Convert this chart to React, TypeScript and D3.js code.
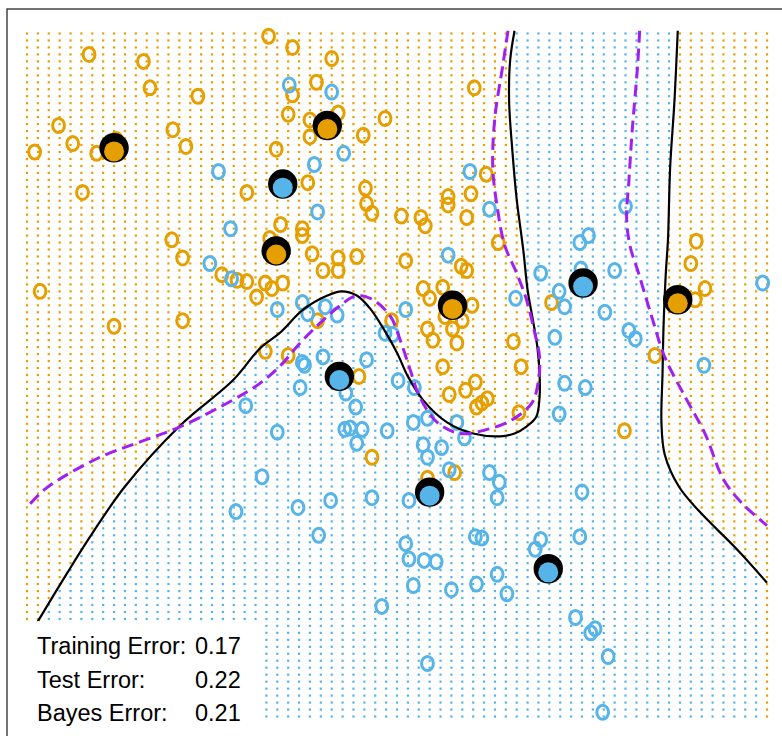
import React from "react";
import * as d3 from "d3";

const W = 782;
const H = 736;

// evaluation grid (mixture example grid)
const gridX = d3.range(69).map((i) => +(-2.6 + i * 0.1).toFixed(2));
const gridY = d3.range(99).map((j) => +(-2.0 + j * 0.05).toFixed(2));

const orangePoints: [number, number][] = [
  [-2.03, 2.75], [-1.53, 2.7], [-1.47, 2.51], [-1.03, 2.45], [-2.31, 2.24], [-2.18, 2.11],
  [-2.53, 2.05], [-1.96, 2.04], [-1.78, 2.14], [-1.26, 2.21], [-1.14, 2.09], [-2.09, 1.76],
  [-0.58, 1.76], [-1.27, 1.42], [-0.38, 2.88], [-0.16, 2.8], [0.2, 2.72], [0.06, 2.55],
  [-0.16, 2.46], [-0.2, 2.32], [0.0, 2.28], [0.26, 2.33], [0.69, 2.29], [0.0, 2.16],
  [0.49, 2.17], [-0.31, 2.07], [-0.02, 1.83], [0.51, 1.79], [0.52, 1.68], [0.57, 1.61],
  [0.84, 1.59], [1.02, 1.58], [1.06, 1.52], [1.27, 1.73], [1.27, 1.67], [1.48, 1.75],
  [1.44, 1.58], [1.62, 1.89], [1.51, 2.51], [-0.27, 1.53], [-0.07, 1.5], [-0.07, 1.45],
  [1.73, 1.4], [-0.37, 1.43], [-2.48, 1.05], [-1.8, 0.8], [-1.17, 0.84], [-1.17, 1.29],
  [-0.81, 1.17], [-0.67, 1.13], [-0.58, 1.12], [-0.41, 1.11], [-0.35, 1.07], [-0.49, 1.01],
  [-0.41, 0.62], [0.02, 1.32], [0.26, 1.29], [0.43, 1.3], [0.12, 1.2], [0.26, 1.2],
  [0.88, 1.27], [1.39, 1.23], [1.44, 1.2], [-0.25, 1.11], [1.04, 1.07], [1.1, 1.0],
  [1.22, 1.08], [1.49, 0.95], [1.24, 0.87], [1.4, 0.84], [1.08, 0.78], [1.13, 0.7],
  [1.31, 0.78], [1.35, 0.68], [0.75, 0.84], [0.07, 0.84], [-0.2, 0.59], [0.45, 0.44],
  [1.22, 0.51], [1.87, 0.69], [1.94, 0.51], [1.52, 0.4], [1.43, 0.34], [1.28, 0.31],
  [1.53, 0.22], [1.58, 0.25], [1.63, 0.28], [1.92, 0.18], [0.57, -0.14], [1.33, -0.25],
  [1.08, -0.29], [3.5, 1.25], [3.63, 1.07], [3.54, 0.99], [2.22, 0.97], [3.17, 0.59],
  [2.89, 0.05], [3.55, 1.41],
];

const bluePoints: [number, number][] = [
  [-0.84, 1.91], [-0.73, 1.5], [-0.19, 2.53], [0.2, 2.48], [0.31, 2.04], [0.04, 1.96],
  [0.07, 1.62], [1.47, 1.91], [1.65, 1.64], [1.27, 1.31], [2.9, 1.66], [2.56, 1.45],
  [2.48, 1.4], [-0.92, 1.25], [-0.72, 1.14], [-0.59, 0.23], [-0.44, -0.28], [-0.3, 0.92],
  [-0.07, 0.97], [-0.02, 0.89], [0.14, 0.94], [0.25, 0.88], [0.88, 0.92], [0.69, 0.75],
  [0.76, 0.74], [1.89, 1.0], [-0.07, 0.54], [-0.05, 0.52], [0.12, 0.58], [0.52, 0.56],
  [-0.09, 0.36], [0.33, 0.32], [0.42, 0.22], [0.81, 0.41], [0.96, 0.36], [-0.3, 0.04],
  [0.32, 0.06], [0.37, 0.07], [0.48, 0.06], [0.43, -0.04], [0.71, 0.05], [0.95, 0.11],
  [1.08, 0.14], [1.35, 0.11], [1.42, 0.0], [1.04, -0.05], [1.08, -0.14], [1.21, -0.07],
  [1.28, -0.23], [1.65, -0.25], [1.74, -0.32], [2.12, 1.18], [2.8, 1.2], [2.49, 1.21],
  [2.29, 1.05], [2.34, 0.94], [2.71, 0.9], [2.93, 0.77], [2.99, 0.71], [2.25, 0.72],
  [3.62, 0.52], [4.16, 1.11], [2.34, 0.39], [2.53, 0.36], [2.29, 0.17], [-0.68, -0.53],
  [-0.11, -0.5], [0.19, -0.45], [0.57, -0.43], [0.91, -0.45], [1.72, -0.43], [0.08, -0.7],
  [0.88, -0.76], [0.91, -0.87], [1.05, -0.88], [1.16, -0.89], [1.52, -0.71], [1.58, -0.72],
  [0.95, -1.06], [1.3, -1.09], [1.53, -1.05], [1.72, -0.98], [1.81, -1.12], [0.66, -1.21],
  [1.08, -1.62], [2.5, -0.39], [2.12, -0.73], [2.07, -0.8], [2.48, -0.71], [2.44, -1.29],
  [2.58, -1.4], [2.62, -1.37], [2.74, -1.57], [2.69, -1.97],
];

const orangeProtos: [number, number][] = [
  [-1.8, 2.08], [0.16, 2.24], [-0.31, 1.34], [1.31, 0.95], [3.38, 0.99],
];
const blueProtos: [number, number][] = [
  [-0.25, 1.82], [2.51, 1.11], [0.27, 0.44], [1.1, -0.39], [2.19, -0.94],
];

const boundaryLeft: [number, number][] = [
  [1.88, 2.92], [1.84, 2.71], [1.83, 2.42], [1.86, 2.06], [1.9, 1.71], [1.96, 1.35],
  [2.0, 1.06], [2.05, 0.84], [2.09, 0.65], [2.11, 0.46], [2.11, 0.29], [2.08, 0.15],
  [1.99, 0.08], [1.88, 0.03], [1.75, 0.01], [1.5, 0.03], [1.26, 0.11], [1.04, 0.27],
  [0.9, 0.44], [0.8, 0.61], [0.67, 0.79], [0.55, 0.93], [0.43, 1.02], [0.29, 1.05],
  [0.16, 1.02], [-0.06, 0.92], [-0.28, 0.75], [-0.46, 0.64], [-0.71, 0.41], [-1.19, 0.09],
  [-1.7, -0.35], [-2.02, -0.71], [-2.23, -0.97], [-2.51, -1.33], [-2.6, -1.45],
];
const boundaryRight: [number, number][] = [
  [3.38, 2.92], [3.35, 2.42], [3.31, 1.94], [3.29, 1.42], [3.27, 1.18], [3.25, 0.82],
  [3.24, 0.46], [3.23, 0.11], [3.26, -0.12], [3.39, -0.35], [3.58, -0.53], [3.91, -0.79],
  [4.2, -1.04],
];
const bayesLeft: [number, number][] = [
  [1.82, 2.92], [1.77, 2.66], [1.7, 2.3], [1.68, 1.94], [1.72, 1.66], [1.79, 1.38],
  [1.9, 1.18], [1.99, 0.99], [2.06, 0.77], [2.11, 0.58], [2.1, 0.41], [2.04, 0.25],
  [1.86, 0.13], [1.63, 0.06], [1.38, 0.03], [1.17, 0.11], [1.01, 0.29], [0.92, 0.49],
  [0.83, 0.7], [0.74, 0.87], [0.58, 0.99], [0.43, 1.02], [0.28, 0.95], [0.09, 0.82],
  [-0.09, 0.68], [-0.28, 0.51], [-0.46, 0.39], [-0.71, 0.27], [-1.19, 0.08], [-1.56, -0.03],
  [-1.93, -0.14], [-2.42, -0.36], [-2.6, -0.5],
];
const bayesRight: [number, number][] = [
  [3.03, 2.92], [3.01, 2.66], [2.96, 2.19], [2.93, 1.83], [2.91, 1.58], [2.94, 1.38],
  [3.02, 1.18], [3.14, 0.87], [3.26, 0.58], [3.45, 0.29], [3.63, 0.03], [3.8, -0.3],
  [3.97, -0.47], [4.2, -0.63],
];

const errorLabels = ["Training Error:", "Test Error:", "Bayes Error:"];
const errorValues = ["0.17", "0.22", "0.21"];

const ORANGE = "#E69F00";
const BLUE = "#56B4E9";
const PURPLE = "#A020F0";

export default function App() {
  const x = d3.scaleLinear().domain([-2.6, 4.2]).range([27, 767]);
  const y = d3.scaleLinear().domain([-2.0, 2.9]).range([716.5, 33.5]);

  const line = d3
    .line<[number, number]>()
    .x((d) => x(d[0]))
    .y((d) => y(d[1]))
    .curve(d3.curveCatmullRom.alpha(0.5));

  // blue region polygon (between the two boundary curves)
  const bluePoly: [number, number][] = [
    ...boundaryLeft,
    [-2.6, -2.0],
    [4.2, -2.0],
    ...boundaryRight.slice().reverse(),
  ];

  const dots: React.ReactNode[] = [];
  gridX.forEach((gx, i) => {
    gridY.forEach((gy, j) => {
      const isBlue = d3.polygonContains(bluePoly, [gx, gy]);
      dots.push(
        <rect
          key={`g${i}-${j}`}
          x={x(gx) - 1.1}
          y={y(gy) - 1.1}
          width={2.2}
          height={2.2}
          fill={isBlue ? BLUE : ORANGE}
        />
      );
    });
  });

  const font = "'Liberation Sans', Arial, Helvetica, sans-serif";

  return (
    <svg
      width={W}
      height={H}
      style={{ position: "absolute", left: 0, top: 0, background: "#fff" }}
    >
      <rect x={0} y={0} width={W} height={H} fill="#fff" />
      <g>{dots}</g>
      <g>
        {orangePoints.map((d, i) => (
          <ellipse
            key={`o${i}`}
            cx={x(d[0])}
            cy={y(d[1])}
            rx={5.9}
            ry={7.0}
            fill="none"
            stroke={ORANGE}
            strokeWidth={3}
          />
        ))}
        {bluePoints.map((d, i) => (
          <ellipse
            key={`b${i}`}
            cx={x(d[0])}
            cy={y(d[1])}
            rx={5.9}
            ry={7.0}
            fill="none"
            stroke={BLUE}
            strokeWidth={3}
          />
        ))}
      </g>
      <g fill="none">
        <path d={line(boundaryLeft) || ""} stroke="#000" strokeWidth={2.2} />
        <path d={line(boundaryRight) || ""} stroke="#000" strokeWidth={2.2} />
        <path
          d={line(bayesLeft) || ""}
          stroke={PURPLE}
          strokeWidth={3}
          strokeDasharray="12 6"
        />
        <path
          d={line(bayesRight) || ""}
          stroke={PURPLE}
          strokeWidth={3}
          strokeDasharray="12 6"
        />
      </g>
      <g>
        {orangeProtos.map((d, i) => (
          <g key={`po${i}`}>
            <circle cx={x(d[0])} cy={y(d[1])} r={14.7} fill="#000" />
            <circle cx={x(d[0])} cy={y(d[1]) + 3.6} r={10} fill={ORANGE} />
          </g>
        ))}
        {blueProtos.map((d, i) => (
          <g key={`pb${i}`}>
            <circle cx={x(d[0])} cy={y(d[1])} r={14.7} fill="#000" />
            <circle cx={x(d[0])} cy={y(d[1]) + 3.6} r={10} fill={BLUE} />
          </g>
        ))}
      </g>
      <rect x={7} y={621} width={254} height={120} fill="#fff" />
      <g fontFamily={font} fontSize={23.5} fill="#000">
        {errorLabels.map((t, i) => (
          <text key={`l${i}`} x={37} y={654 + i * 33.5}>
            {t}
          </text>
        ))}
        {errorValues.map((t, i) => (
          <text key={`v${i}`} x={195} y={654 + i * 33.5}>
            {t}
          </text>
        ))}
      </g>
      <path d={`M7,${H + 2} V9 H${W + 2}`} fill="none" stroke="#444" strokeWidth={1.5} />
    </svg>
  );
}
